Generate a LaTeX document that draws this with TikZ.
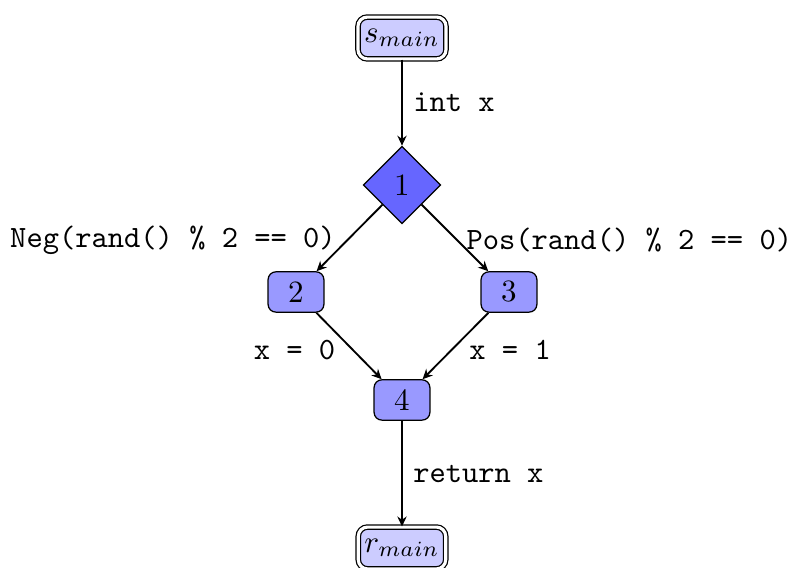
\documentclass[tikz,border=0pt]{standalone}
\usetikzlibrary{shapes.geometric,arrows.meta}
\begin{document}
\begin{tikzpicture}[x=0.32258pt,y=-0.32258pt,
  blk/.style={draw,rounded corners=2.5pt,fill=blue!40,minimum width=18pt,minimum height=13pt,inner sep=2pt},
  term/.style={draw,double,double distance=1pt,rounded corners=3pt,fill=blue!20,minimum width=26pt,minimum height=13.5pt,inner sep=2pt},
  dia/.style={draw,diamond,fill=blue!60,minimum width=25pt,minimum height=25pt,inner sep=1pt},
  conn/.style={semithick,-{Stealth[length=3.2pt,width=3pt]}},
  lab/.style={font=\ttfamily}]
\useasboundingbox (0,0) rectangle (793,568);
\node[term] (s) at (402,38) {$s_{main}$};
\node[dia] (n1) at (402,185) {1};
\node[blk] (n2) at (296,292) {2};
\node[blk] (n3) at (509,292) {3};
\node[blk] (n4) at (402,400) {4};
\node[term] (r) at (402,548) {$r_{main}$};
\draw[conn] (s) -- node[lab,right,pos=0.5] {int x} (n1);
\draw[conn] (n1) -- node[lab,anchor=east,pos=0.53,inner sep=1pt,xshift=-2.5pt] {Neg(rand() \% 2 == 0)} (n2);
\draw[conn] (n1) -- node[lab,anchor=west,pos=0.53,inner sep=1pt,xshift=1.8pt] {Pos(rand() \% 2 == 0)} (n3);
\draw[conn] (n2) -- node[lab,anchor=north east,pos=0.35,inner sep=1pt] {x = 0} (n4);
\draw[conn] (n3) -- node[lab,anchor=north west,pos=0.35,inner sep=1pt] {x = 1} (n4);
\draw[conn] (n4) -- node[lab,right] {return x} (r);
\end{tikzpicture}
\end{document}
